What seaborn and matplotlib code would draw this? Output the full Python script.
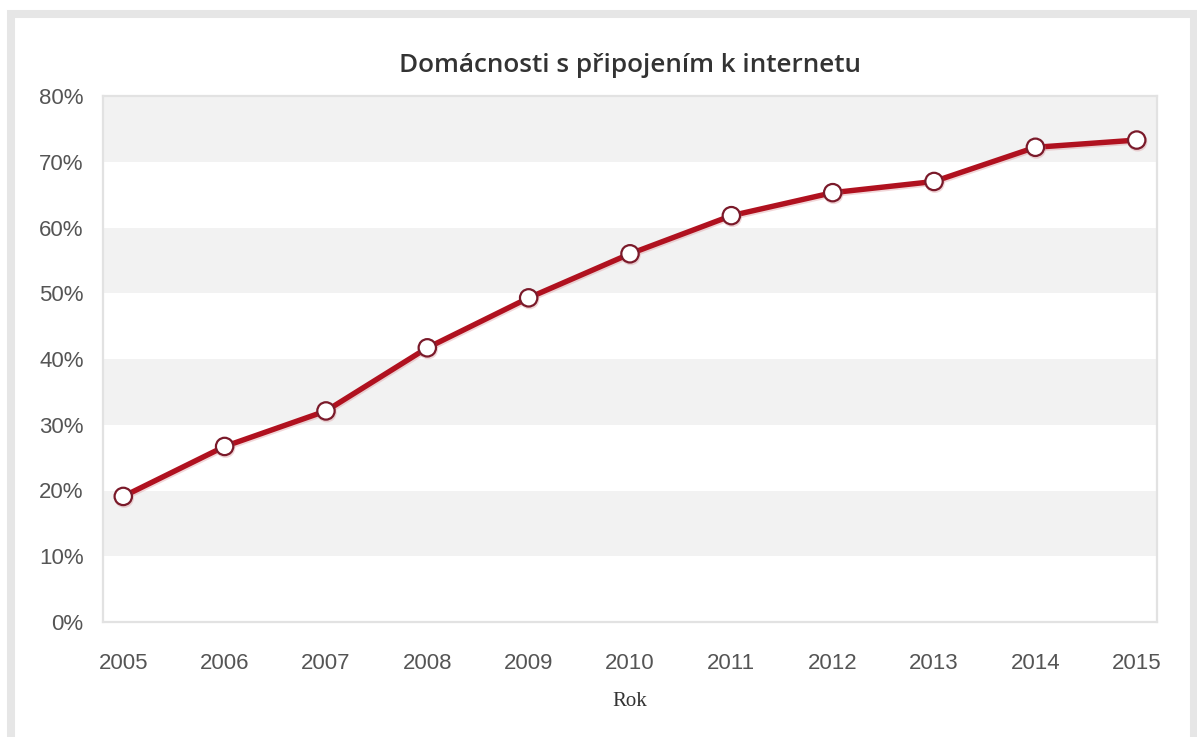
import matplotlib
matplotlib.use("Agg")
import matplotlib.pyplot as plt
import matplotlib.patches as mpatches
import matplotlib.patheffects as pe
from matplotlib.ticker import FuncFormatter
import seaborn as sns
import pandas as pd

# Share of households with an internet connection (%)
years = [2005, 2006, 2007, 2008, 2009, 2010, 2011, 2012, 2013, 2014, 2015]
households_pct = [19.1, 26.7, 32.1, 41.7, 49.3, 56.0, 61.8, 65.3, 67.0, 72.2, 73.3]
y_ticks = [0, 10, 20, 30, 40, 50, 60, 70, 80]

title_text = "Domácnosti s připojením k internetu"
x_label = "Rok"

df = pd.DataFrame({"Rok": years, "Podíl": households_pct})

sns.set_theme(style="white")
plt.rcParams["font.family"] = ["Liberation Sans", "DejaVu Sans"]

W, H = 1197, 737
fig = plt.figure(figsize=(W / 100, H / 100), dpi=100, facecolor="white")

# outer light-grey frame of the widget
frame = mpatches.Rectangle((11 / W, -0.05), (1194 - 11) / W, 1.05 - 13.5 / H,
                           transform=fig.transFigure, fill=False,
                           edgecolor="#e6e6e6", linewidth=5.8, zorder=0)
fig.patches.append(frame)

ax = fig.add_axes([103 / W, 1 - 622 / H, (1157 - 103) / W, (622 - 96) / H])
ax.set_facecolor("white")

# alternating horizontal bands
for lo in range(10, 80, 20):
    ax.axhspan(lo, lo + 10, color="#f2f2f2", zorder=0, linewidth=0)

sns.lineplot(data=df, x="Rok", y="Podíl", ax=ax, color="#b0111f", linewidth=3.9,
             marker="o", markersize=12.5, markerfacecolor="white",
             markeredgecolor="#7a1a2a", markeredgewidth=1.6, zorder=3,
             path_effects=[pe.SimpleLineShadow(offset=(0.6, -1.2), shadow_color="#d88a90", alpha=0.35),
                           pe.Normal()])

ax.set_xlim(2004.8, 2015.2)
ax.set_ylim(0, 80)
ax.set_xticks(years)
ax.set_yticks(y_ticks)
ax.yaxis.set_major_formatter(FuncFormatter(lambda v, _: f"{int(v)}%"))
ax.tick_params(axis="both", length=0, labelsize=16, colors="#555555")
ax.tick_params(axis="y", pad=14)
ax.tick_params(axis="x", pad=22)
ax.grid(False)

for side in ["left", "right", "top", "bottom"]:
    ax.spines[side].set_visible(True)
    ax.spines[side].set_color("#e2e2e2")
    ax.spines[side].set_linewidth(1.6)

ax.set_ylabel("")
ax.set_xlabel(x_label, family=["Liberation Serif", "DejaVu Serif"], fontsize=15,
              color="#333333", labelpad=13)
ax.set_title(title_text, fontsize=18.8, fontweight="semibold", color="#333333", pad=17.5,
             family=["Open Sans", "DejaVu Sans"])

fig.savefig("out.png", dpi=100, facecolor="white")
